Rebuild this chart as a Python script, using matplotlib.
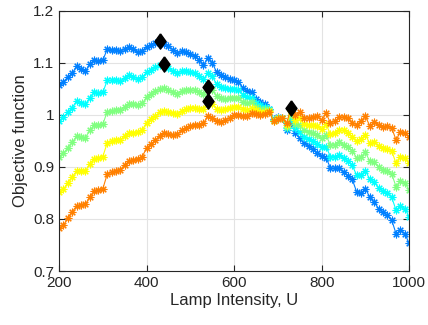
import numpy as np
import matplotlib
matplotlib.use("Agg")
import matplotlib.pyplot as plt

plt.rcParams["font.family"] = ["Liberation Sans", "DejaVu Sans"]

lamp = np.arange(200, 1001, 10)

obj_blue = [
    1.058, 1.064, 1.072, 1.080, 1.093, 1.088, 1.084, 1.097, 1.106, 1.104,
    1.105, 1.126, 1.125, 1.124, 1.122, 1.127, 1.131, 1.126, 1.120, 1.123,
    1.131, 1.135, 1.138, 1.141, 1.137, 1.132, 1.125, 1.119, 1.122, 1.120,
    1.117, 1.113, 1.106, 1.096, 1.109, 1.100, 1.082, 1.076, 1.072, 1.069,
    1.067, 1.064, 1.052, 1.046, 1.043, 1.030, 1.024, 1.021, 1.012, 0.992,
    0.995, 0.994, 0.970, 0.985, 0.966, 0.955, 0.945, 0.940, 0.934, 0.926,
    0.921, 0.918, 0.898, 0.897, 0.898, 0.890, 0.883, 0.876, 0.852, 0.850,
    0.858, 0.842, 0.832, 0.820, 0.813, 0.807, 0.798, 0.772, 0.778, 0.772,
    0.753,
]
obj_cyan = [
    0.989, 0.995, 1.005, 1.014, 1.026, 1.023, 1.020, 1.033, 1.043, 1.042,
    1.043, 1.066, 1.066, 1.066, 1.065, 1.071, 1.076, 1.073, 1.069, 1.072,
    1.082, 1.087, 1.091, 1.095, 1.097, 1.090, 1.084, 1.080, 1.084, 1.084,
    1.083, 1.080, 1.075, 1.068, 1.081, 1.074, 1.059, 1.054, 1.052, 1.050,
    1.050, 1.048, 1.039, 1.034, 1.033, 1.023, 1.018, 1.016, 1.011, 0.991,
    0.994, 0.994, 0.974, 0.992, 0.974, 0.968, 0.957, 0.954, 0.950, 0.944,
    0.938, 0.939, 0.920, 0.920, 0.922, 0.917, 0.911, 0.903, 0.884, 0.885,
    0.893, 0.876, 0.871, 0.860, 0.854, 0.850, 0.842, 0.817, 0.825, 0.820,
    0.804,
]
obj_green = [
    0.920, 0.926, 0.937, 0.947, 0.959, 0.957, 0.956, 0.970, 0.980, 0.980,
    0.982, 1.006, 1.008, 1.009, 1.009, 1.016, 1.021, 1.020, 1.018, 1.022,
    1.034, 1.040, 1.045, 1.050, 1.051, 1.048, 1.044, 1.041, 1.046, 1.048,
    1.048, 1.047, 1.043, 1.040, 1.054, 1.047, 1.036, 1.032, 1.031, 1.032,
    1.033, 1.032, 1.025, 1.022, 1.024, 1.016, 1.012, 1.011, 1.009, 0.990,
    0.994, 0.994, 0.977, 1.000, 0.983, 0.981, 0.970, 0.967, 0.965, 0.962,
    0.956, 0.961, 0.942, 0.943, 0.947, 0.943, 0.938, 0.931, 0.917, 0.919,
    0.928, 0.911, 0.909, 0.900, 0.895, 0.893, 0.887, 0.862, 0.873, 0.869,
    0.856,
]
obj_yellow = [
    0.851, 0.857, 0.870, 0.881, 0.892, 0.892, 0.892, 0.906, 0.916, 0.917,
    0.920, 0.946, 0.949, 0.951, 0.952, 0.960, 0.966, 0.966, 0.967, 0.971,
    0.985, 0.992, 0.998, 1.005, 1.008, 1.005, 1.003, 1.002, 1.008, 1.011,
    1.014, 1.014, 1.012, 1.012, 1.026, 1.021, 1.012, 1.009, 1.011, 1.013,
    1.016, 1.016, 1.012, 1.009, 1.014, 1.009, 1.006, 1.006, 1.008, 0.989,
    0.993, 0.994, 0.981, 1.007, 0.991, 0.993, 0.982, 0.981, 0.981, 0.979,
    0.973, 0.982, 0.963, 0.965, 0.971, 0.970, 0.966, 0.958, 0.949, 0.954,
    0.962, 0.945, 0.948, 0.940, 0.936, 0.935, 0.931, 0.907, 0.920, 0.917,
    0.907,
]
obj_orange = [
    0.782, 0.788, 0.802, 0.814, 0.825, 0.826, 0.828, 0.842, 0.853, 0.855,
    0.858, 0.886, 0.890, 0.893, 0.895, 0.904, 0.911, 0.913, 0.916, 0.920,
    0.936, 0.944, 0.951, 0.960, 0.965, 0.963, 0.962, 0.963, 0.970, 0.975,
    0.979, 0.981, 0.980, 0.984, 0.998, 0.994, 0.989, 0.987, 0.990, 0.994,
    0.999, 1.000, 0.998, 0.997, 1.004, 1.002, 1.000, 1.001, 1.006, 0.988,
    0.992, 0.994, 0.984, 1.014, 0.999, 1.006, 0.994, 0.994, 0.996, 0.997,
    0.990, 1.003, 0.985, 0.988, 0.995, 0.996, 0.993, 0.985, 0.981, 0.988,
    0.997, 0.979, 0.986, 0.980, 0.977, 0.978, 0.975, 0.952, 0.967, 0.965,
    0.958,
]

series = [obj_blue, obj_cyan, obj_green, obj_yellow, obj_orange]
colors = ["#0080ff", "#00ffff", "#80ff80", "#ffff00", "#ff8000"]

# 8-spoke asterisk and a narrow diamond
star = (8, 2, 0)
diamond = [(0, 1), (0.72, 0), (0, -1), (-0.72, 0), (0, 1)]

fig = plt.figure(figsize=(4.28, 3.25), dpi=100)
ax = fig.add_axes([0.138, 0.166, 0.818, 0.801])

for vals, c in zip(series, colors):
    ax.plot(lamp, vals, color=c, lw=0.8, marker=star, ms=5.5, mew=0.8)

# mark the maximum of each curve
for vals in series:
    i = int(np.argmax(vals))
    ax.plot(lamp[i], vals[i], marker=diamond, color="black", ms=11, zorder=5)

ax.set_xlim(200, 1000)
ax.set_ylim(0.7, 1.2)
ax.set_xticks([200, 400, 600, 800, 1000])
ax.set_yticks([0.7, 0.8, 0.9, 1.0, 1.1, 1.2])
ax.set_yticklabels(["0.7", "0.8", "0.9", "1", "1.1", "1.2"])
ax.grid(True, color="#e3e3e3", lw=0.8)
ax.set_axisbelow(True)
ax.tick_params(direction="in", top=True, right=True, labelsize=11,
               colors="#262626", length=4)
for sp in ax.spines.values():
    sp.set_color("#262626")
    sp.set_linewidth(0.8)

ax.set_xlabel("Lamp Intensity, U", fontsize=12, color="#262626", labelpad=2)
ax.set_ylabel("Objective function", fontsize=12, color="#262626", labelpad=4)

fig.savefig("out.png", dpi=100)
